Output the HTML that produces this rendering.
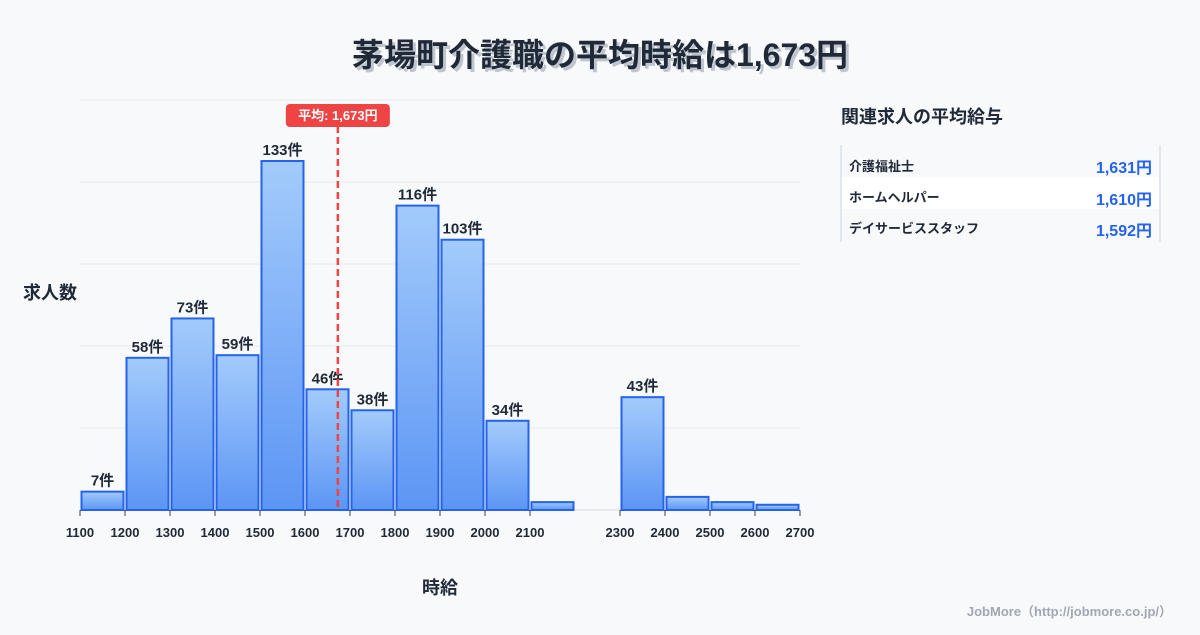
<!DOCTYPE html>
<html><head><meta charset="utf-8"><style>
body{margin:0;background:#f8f9fb;width:1200px;height:630px;overflow:hidden;font-family:"Liberation Sans","Noto Sans CJK JP",sans-serif;}
svg text{font-family:"Liberation Sans","Noto Sans CJK JP",sans-serif;}
</style></head><body>
<svg id="chart" width="1200" height="630">
<defs><linearGradient id="g" x1="0" y1="0" x2="0" y2="1"><stop offset="0" stop-color="#a3cbfb"/><stop offset="1" stop-color="#5c95f4"/></linearGradient></defs>
<text x="600" y="66" text-anchor="middle" font-size="32" font-weight="bold" fill="#9aa3b2" opacity="0.6" transform="translate(3,3)">茅場町介護職の平均時給は1,673円</text>
<text x="600" y="66" text-anchor="middle" font-size="32" font-weight="bold" fill="#1f2937">茅場町介護職の平均時給は1,673円</text>
<g id="grid"></g><g id="bars"></g><g id="xt"></g>
<text x="50" y="299" text-anchor="middle" font-size="18" font-weight="bold" fill="#1f2937">求人数</text>
<text x="440" y="594" text-anchor="middle" font-size="18" font-weight="bold" fill="#1f2937">時給</text>
<g>
<text x="841" y="123" font-size="18" font-weight="bold" fill="#1f2937">関連求人の平均給与</text>
<line x1="841" y1="145" x2="841" y2="242" stroke="#cbd5e1"/><line x1="1160" y1="145" x2="1160" y2="242" stroke="#cbd5e1"/>
<rect x="842" y="177" width="317" height="32" fill="#ffffff"/>
<text x="849" y="171" font-size="13" font-weight="bold" fill="#1f2937">介護福祉士</text>
<text x="1152" y="173" text-anchor="end" font-size="16" font-weight="bold" fill="#2563eb">1,631円</text>
<text x="849" y="202" font-size="13" font-weight="bold" fill="#1f2937">ホームヘルパー</text>
<text x="1152" y="205" text-anchor="end" font-size="16" font-weight="bold" fill="#2563eb">1,610円</text>
<text x="849" y="233" font-size="13" font-weight="bold" fill="#1f2937">デイサービススタッフ</text>
<text x="1152" y="236" text-anchor="end" font-size="16" font-weight="bold" fill="#2563eb">1,592円</text>
</g>
<text x="1172" y="616" text-anchor="end" font-size="13" font-weight="bold" fill="#a0a7b3">JobMore（http://jobmore.co.jp/）</text>
<g id="mean"></g>
</svg>
<script>
const binStarts=[1100,1200,1300,1400,1500,1600,1700,1800,1900,2000,2100,2200,2300,2400,2500,2600];
const counts=[7,58,73,59,133,46,38,116,103,34,3,0,43,5,3,2];
const tickLabels=[1100,1200,1300,1400,1500,1600,1700,1800,1900,2000,2100,2300,2400,2500,2600,2700];
const meanWage=1673;
const labelThreshold=10;
const NS="http://www.w3.org/2000/svg";
const x0=80,x1=800,xmin=1100,xmax=2700,y0=510,yTop=100,ymax=156.25;
const X=v=>x0+(v-xmin)/(xmax-xmin)*(x1-x0);
const Y=v=>y0-v/ymax*(y0-yTop);
function mk(t,a,p){const e=document.createElementNS(NS,t);for(const k in a)e.setAttribute(k,a[k]);p.appendChild(e);return e;}
const grid=document.getElementById('grid');
for(let i=0;i<=5;i++){const yy=Y(ymax*i/5);const l=mk('line',{x1:x0,x2:x1,y1:yy,y2:yy,stroke:i==0?'#d5dbe3':'#e5e9ef','stroke-width':1},grid);

}
const bars=document.getElementById('bars');
binStarts.forEach((b,i)=>{const c=counts[i];if(c<=0)return;
const xa=X(b)+1.5,xb=X(b+100)-1.5,yt=Y(c);
const r=mk('rect',{x:xa,y:yt,width:xb-xa,height:y0-yt,fill:'url(#g)',stroke:'#2563eb','stroke-width':2},bars);


if(c>=labelThreshold){const t=mk('text',{x:(xa+xb)/2,y:yt-6,'text-anchor':'middle','font-size':15,'font-weight':'bold',fill:'#1f2937'},bars);t.textContent=c+'件';

}
else if(c>=6){const t=mk('text',{x:(xa+xb)/2,y:yt-6,'text-anchor':'middle','font-size':15,'font-weight':'bold',fill:'#1f2937'},bars);t.textContent=c+'件';

}
});
const xt=document.getElementById('xt');
tickLabels.forEach(v=>{const xx=X(v);mk('line',{x1:xx,x2:xx,y1:y0,y2:y0+6,stroke:'#374151','stroke-width':1},xt);
const t=mk('text',{x:xx,y:537,'text-anchor':'middle','font-size':13,'font-weight':'bold',fill:'#1f2937'},xt);t.textContent=v;

});
const mg=document.getElementById('mean');const mx=X(meanWage);
const ml=mk('line',{x1:mx,x2:mx,y1:126,y2:y0,stroke:'#ef4444','stroke-width':2.5,'stroke-dasharray':'7,4'},mg);


const mr=mk('rect',{x:mx-52,y:104,width:104,height:23,rx:4,fill:'#ef4444'},mg);


const mt=mk('text',{x:mx,y:120,'text-anchor':'middle','font-size':13,'font-weight':'bold',fill:'#fff'},mg);
mt.textContent='平均: '+meanWage.toLocaleString('en-US')+'円';


</script>
</body></html>
